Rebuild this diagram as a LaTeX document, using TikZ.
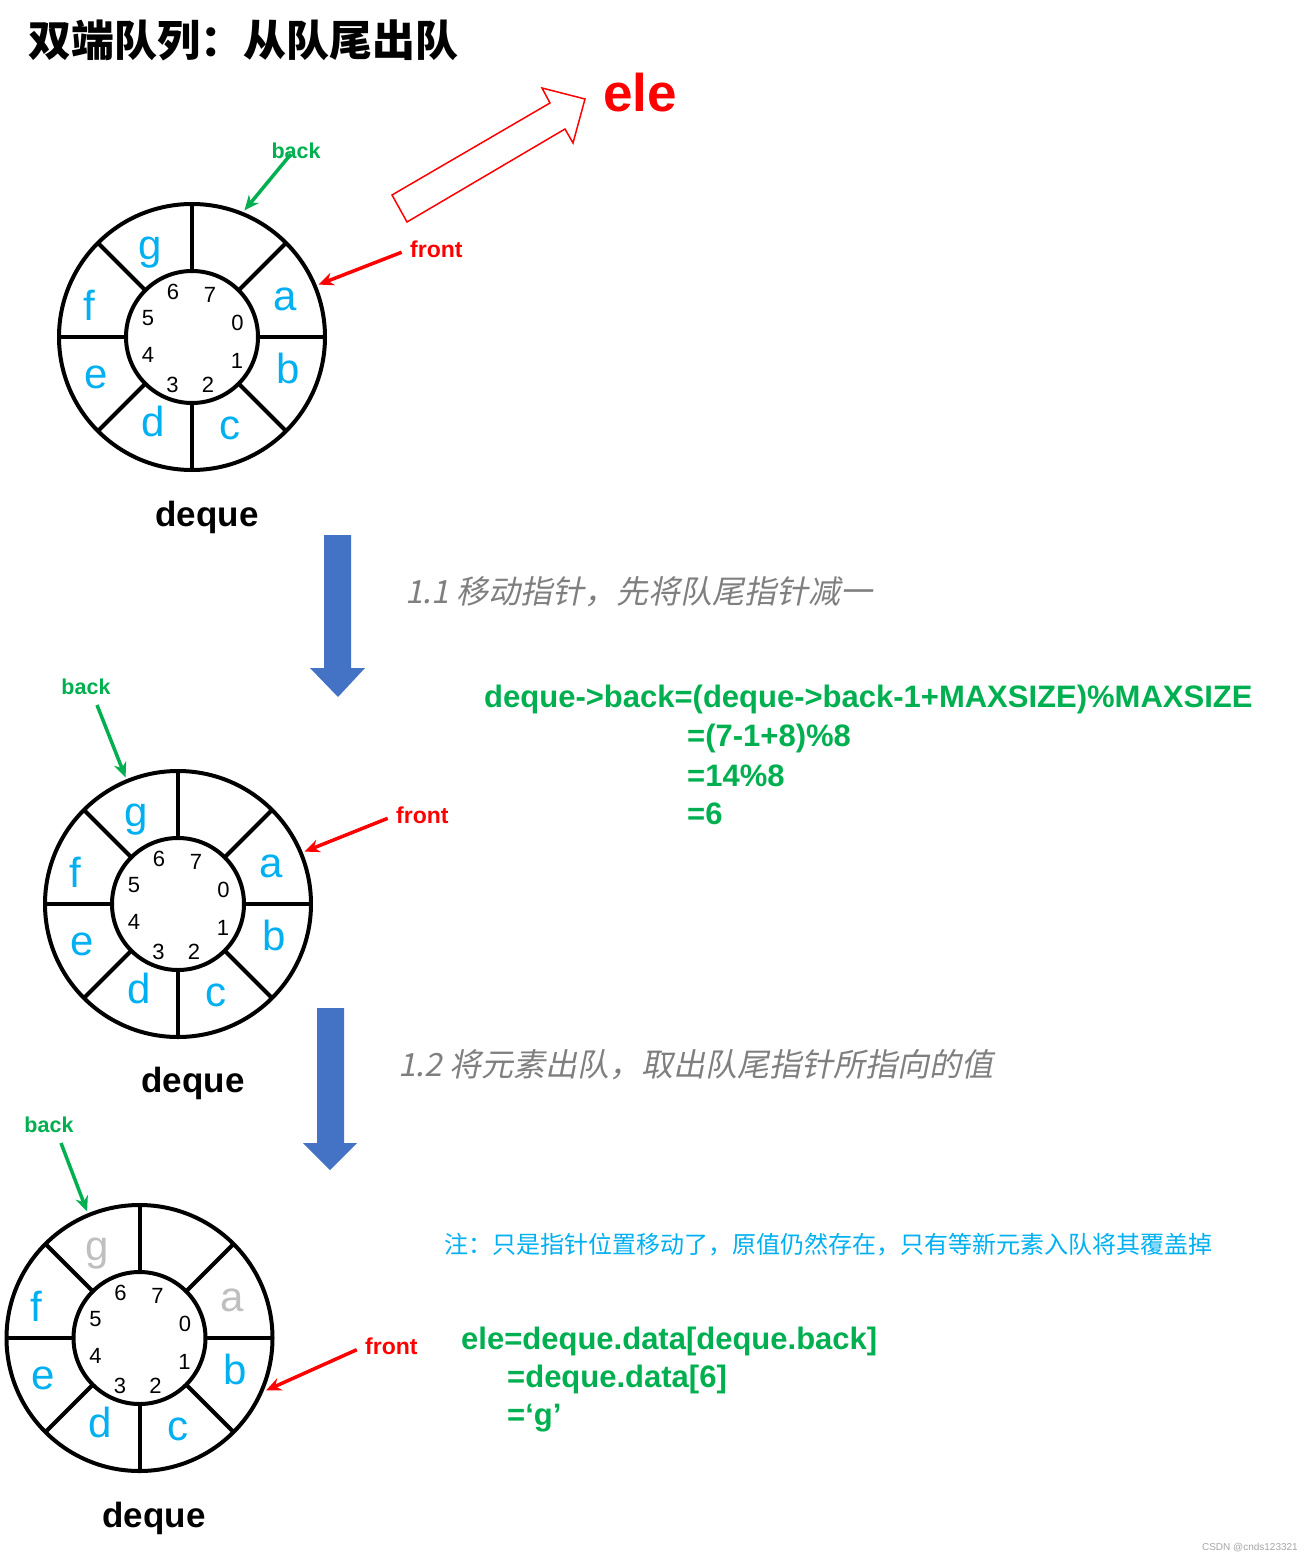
\documentclass[tikz,border=0pt]{standalone}
\usepackage{fontspec}
\setmainfont{Liberation Sans}
\newfontfamily\cjk{Noto Sans CJK SC}
\newfontfamily\cjkslant[FakeSlant=0.2]{Noto Sans CJK SC}
\usetikzlibrary{arrows.meta}

\definecolor{cellblue}{HTML}{00B0F0}
\definecolor{ptrgreen}{HTML}{00B050}
\definecolor{faded}{HTML}{BFBFBF}
\definecolor{stepgray}{HTML}{7F7F7F}
\definecolor{barblue}{HTML}{4472C4}
\definecolor{markgray}{HTML}{A6A6A6}

\newcommand\fsz[1]{\fontsize{#1}{#1}\selectfont}

\tikzset{
  ringline/.style={draw=black, line width=4pt},
  cell/.style={font=\fsz{42}, text=cellblue, inner sep=0pt},
  idx/.style={font=\fsz{22}, text=black, inner sep=0pt},
  backptr/.style={draw=ptrgreen, line width=3.5pt, -{Stealth[length=15pt,width=13pt]}},
  frontptr/.style={draw=red, line width=3.5pt, -{Stealth[length=15pt,width=13pt]}},
  backlbl/.style={text=ptrgreen, font=\bfseries\fsz{21.5}, inner sep=0pt},
  frontlbl/.style={text=red, font=\bfseries\fsz{23}, inner sep=0pt},
  dequelbl/.style={text=black, font=\bfseries\fsz{35}, inner sep=0pt},
  formula/.style={text=ptrgreen, font=\bfseries\fsz{31}, inner sep=0pt, anchor=west},
  steptext/.style={text=stepgray, font=\cjkslant\fsz{32}, inner sep=0pt, anchor=west},
  notetext/.style={text=cellblue, font=\cjk\fsz{24}, inner sep=0pt, anchor=west},
  bigarrow/.style={fill=barblue, draw=none},
  hollowarrow/.style={draw=red, line width=1.5pt, fill=white, line join=miter},
}

% circular buffer: #1 name, #2 centre, #3 colour of cell 6, #4 colour of cell 0
\newcommand\dequering[4]{%
  \begin{scope}[shift={#2}, y=1pt]
    \draw[ringline] (0,0) circle (133);
    \draw[ringline] (0,0) circle (66);
    \foreach \ang in {0,45,...,315}
      \draw[ringline] (\ang:66) -- (\ang:133);
    \node[cell, text=#4] (#1-a) at (93,38) {a};
    \foreach \t/\px/\py in {b/96/-31, c/38/-91, d/-39/-84, e/-96/-40, f/-103/32}
      \node[cell] (#1-\t) at (\px,\py) {\t};
    \node[cell, text=#3] (#1-g) at (-42,84) {g};
    \foreach \n/\px/\py in {0/45.5/14, 1/45/-24, 2/16/-48, 3/-19.5/-48,
                            4/-44/-18, 5/-44/19, 6/-19/45, 7/18/42}
      \node[idx] (#1-n\n) at (\px,\py) {\n};
    \foreach \n in {0,...,7}{
      \pgfmathsetmacro\ang{22.5-45*\n}
      \coordinate (#1-p\n) at (\ang:137);
    }
  \end{scope}}

\begin{document}
\begin{tikzpicture}[x=1pt, y=-1pt]
  \useasboundingbox (0,0) rectangle (1313,1562);
  \fill[white] (0,0) rectangle (1313,1562);

  % heading
  \node[anchor=west, inner sep=0pt, font=\cjk\bfseries\fsz{43}] (title) at (28,40) {双端队列：从队尾出队};

  % ---- state before the step ----
  \dequering{r1}{(192,337)}{cellblue}{cellblue}
  \node[dequelbl] (deq1) at (207,517) {deque};
  \node[backlbl] (back1) at (296,151) {back};
  \coordinate (back1s) at (291,154);
  \draw[backptr] (back1s) -- (r1-p7);
  \node[frontlbl, anchor=west] (front1) at (410,249) {front};
  \draw[frontptr, shorten <=9pt] (front1.west) -- (r1-p0);

  % element leaving the queue
  \draw[hollowarrow] (392,195) -- (550,103) -- (542,88) -- (585,99)
    -- (573,143) -- (565,129) -- (407,222) -- cycle;
  \node[anchor=west, inner sep=0pt, text=red, font=\bfseries\fsz{53}] (ele) at (603,93) {ele};

  % step 1.1
  \fill[bigarrow] (324,535) -- (351,535) -- (351,668) -- (365,668)
    -- (338,697) -- (310,668) -- (324,668) -- cycle;
  \node[steptext] (step11) at (405,592) {1.1 移动指针，先将队尾指针减一};
  \node[formula] (fa1) at (484,699) {deque->back=(deque->back-1+MAXSIZE)\%MAXSIZE};
  \node[formula] (fa2) at (687,738) {=(7-1+8)\%8};
  \node[formula] (fa3) at (687,776) {=14\%8};
  \node[formula] (fa4) at (687,814) {=6};

  % ---- after moving the back pointer ----
  \dequering{r2}{(178,904)}{cellblue}{cellblue}
  \node[dequelbl] (deq2) at (193,1083) {deque};
  \node[backlbl] (back2) at (86,687) {back};
  \coordinate (back2s) at (97,705);
  \draw[backptr] (back2s) -- (r2-p6);
  \node[frontlbl, anchor=west] (front2) at (396,815) {front};
  \draw[frontptr, shorten <=9pt] (front2.west) -- (r2-p0);

  % step 1.2
  \fill[bigarrow] (317,1008) -- (344,1008) -- (344,1143) -- (357,1143)
    -- (330,1170) -- (303,1143) -- (317,1143) -- cycle;
  \node[steptext] (step12) at (398,1065) {1.2 将元素出队，取出队尾指针所指向的值};

  % ---- after taking the element out ----
  \dequering{r3}{(139.5,1338)}{faded}{faded}
  \node[dequelbl] (deq3) at (154,1518) {deque};
  \node[backlbl] (back3) at (49,1125) {back};
  \coordinate (back3s) at (61,1143);
  \draw[backptr] (back3s) -- (r3-p6);
  \node[frontlbl, anchor=west] (front3) at (365,1346) {front};
  \draw[frontptr, shorten <=9pt] (front3.west) -- (r3-p1);

  \node[notetext] (note) at (444,1245) {注：只是指针位置移动了，原值仍然存在，只有等新元素入队将其覆盖掉};
  \node[formula] (fb1) at (461,1341) {ele=deque.data[deque.back]};
  \node[formula] (fb2) at (507,1379) {=deque.data[6]};
  \node[formula] (fb3) at (507,1418) {=‘g’};

  \node[anchor=east, inner sep=0pt, text=markgray, font=\fsz{10}] (mark) at (1298,1548) {CSDN @cnds123321};
\end{tikzpicture}
\end{document}
